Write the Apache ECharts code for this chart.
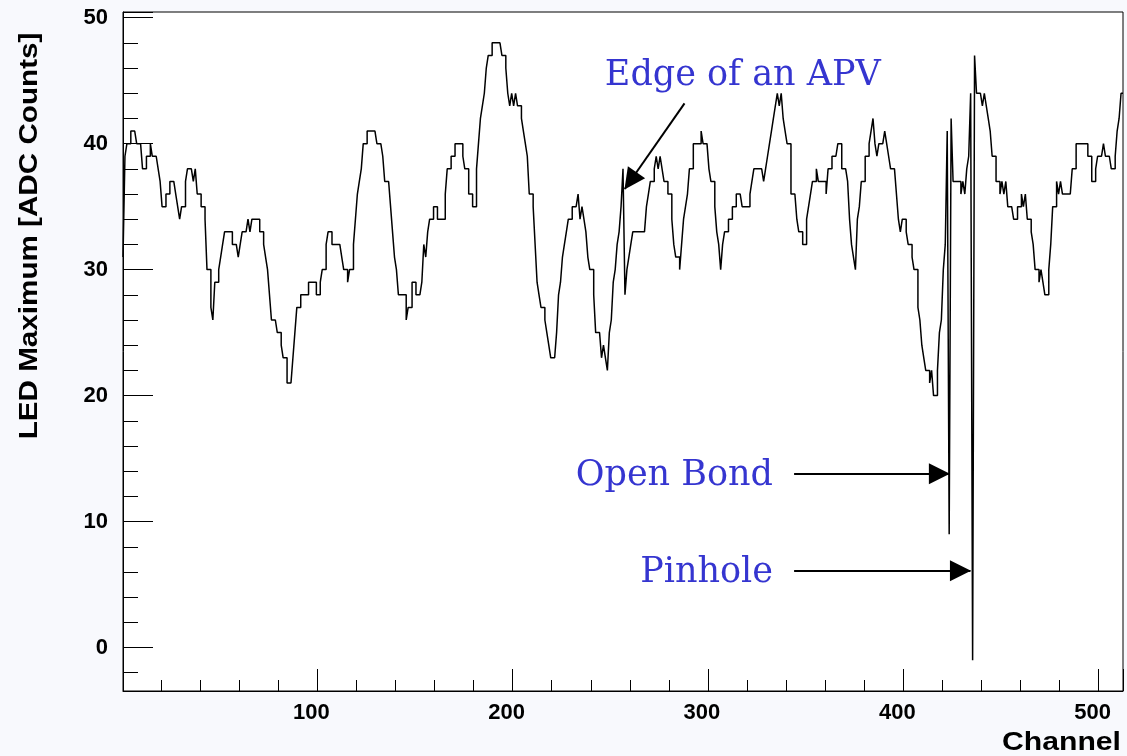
<!DOCTYPE html>
<html>
<head>
<meta charset="utf-8">
<script src="https://cdn.jsdelivr.net/npm/echarts@6/dist/echarts.min.js"></script>
<style>
  html, body { margin: 0; padding: 0; background: #ffffff; }
  #chart { width: 1127px; height: 756px; }
</style>
</head>
<body>
<div id="chart"></div>
<script>
// Histogram axes: 512 readout channels, LED pulse maximum in ADC counts
const channelRange = [0.5, 512.5];
const adcRange = [-3.45, 50.45];

// LED maximum per channel (channel 1 .. 512)
const ledMaximum = [
  31,39,40,40,41,41,41,40,40,40,
  38,38,39,39,40,39,39,39,38,37,
  35,35,36,36,37,37,37,36,35,34,
  35,35,37,38,38,38,37,38,36,36,
  35,35,34,30,30,27,26,29,29,30,
  31,32,33,33,33,33,32,32,32,31,
  32,33,33,33,34,33,34,34,34,34,
  33,33,32,31,30,28,26,26,26,25,
  25,24,23,23,21,21,21,23,25,27,
  27,28,28,28,28,29,29,29,29,28,
  28,29,30,30,32,33,33,32,32,32,
  32,32,31,30,30,29,30,30,32,34,
  36,37,38,40,40,41,41,41,41,41,
  40,40,40,39,37,37,37,35,33,31,
  30,28,28,28,28,26,27,27,29,29,
  28,28,28,29,32,31,33,34,34,35,
  35,34,34,34,34,36,38,38,39,39,
  40,40,40,40,39,38,38,36,36,35,
  35,38,40,42,43,44,46,47,47,48,
  48,48,48,48,47,47,46,44,43,44,
  43,44,43,43,42,41,40,39,36,36,
  35,32,29,28,27,27,26,25,24,23,
  23,23,25,28,29,31,32,33,34,34,
  35,35,35,36,34,35,34,33,31,30,
  30,28,25,25,25,23,24,23,22,25,
  26,29,30,32,33,35,38,28,30,31,
  32,33,33,33,33,33,33,33,35,36,
  37,37,38,39,38,39,38,37,37,36,
  36,34,32,31,31,30,32,34,35,36,
  38,38,40,40,40,40,41,40,40,40,
  38,37,37,35,33,32,30,32,33,33,
  34,34,35,35,36,36,36,35,35,35,
  35,36,37,38,38,38,38,38,37,38,
  39,40,41,42,43,44,43,44,42,41,
  40,40,36,36,36,34,33,33,32,32,
  34,35,36,37,37,38,37,37,37,37,
  36,38,38,39,39,39,40,40,38,38,
  38,37,34,32,31,30,34,35,37,37,
  39,39,40,41,42,40,39,40,40,40,
  41,40,39,38,38,38,36,34,33,34,
  34,33,32,32,31,30,30,27,26,24,
  23,22,22,21,22,20,20,22,25,26,
  30,32,41,9,42,37,37,37,37,36,
  37,36,38,39,44,-1,47,44,44,44,
  43,44,43,42,41,39,39,37,37,36,
  37,36,37,35,35,35,34,34,35,35,
  36,35,36,34,34,33,32,30,30,29,
  30,29,28,28,30,32,35,35,37,36,
  37,36,36,36,36,36,38,38,40,40,
  40,40,40,40,39,39,37,37,38,39,
  39,39,40,39,39,39,38,38,39,41,
  42,44
];

// Annotation texts and the arrows that point at the features they name
const noteTexts = ['Edge of an APV', 'Open Bond', 'Pinhole'];
const noteAnchors = [[247.2, 45.35], [333.3, 13.65], [333.3, 5.95]];
const noteAlign = ['left', 'right', 'right'];
const arrowFrom = [[288.0, 43.2], [344.1, 13.8], [344.1, 6.1]];
const arrowTo = [[257.4, 36.4], [423.6, 13.8], [434.4, 6.1]];

// Step outline: each bin starts at its lower edge, the last point closes the final bin
const stepPoints = ledMaximum.map((v, i) => [channelRange[0] + i, v]);
stepPoints.push([channelRange[0] + ledMaximum.length, ledMaximum[ledMaximum.length - 1]]);

const tickFont = { color: '#000', fontFamily: 'Liberation Sans, Arial, sans-serif', fontWeight: 'bold', fontSize: 22 };
const blue = '#3535d0';

const chart = echarts.init(document.getElementById('chart'), null, { renderer: 'canvas' });

const option = {
  animation: false,
  backgroundColor: '#f8f9fd',
  grid: {
    left: 123, top: 12, width: 1000, height: 679,
    show: true, borderColor: '#000', borderWidth: 1, backgroundColor: '#ffffff'
  },
  xAxis: {
    type: 'value',
    min: channelRange[0], max: channelRange[1],
    splitNumber: 5,
    axisLine: { show: true, onZero: false, lineStyle: { color: '#000', width: 1 } },
    axisTick: { show: true, inside: true, length: 22, lineStyle: { color: '#000', width: 1 } },
    minorTick: { show: true, splitNumber: 5, length: 11, lineStyle: { color: '#000', width: 1 } },
    splitLine: { show: false },
    axisLabel: Object.assign({ margin: 11, padding: [0, 12, 0, 0], showMinLabel: false, showMaxLabel: false }, tickFont)
  },
  yAxis: {
    type: 'value',
    min: adcRange[0], max: adcRange[1],
    splitNumber: 5,
    axisLine: { show: true, onZero: false, lineStyle: { color: '#000', width: 1 } },
    axisTick: { show: true, inside: true, length: 30, lineStyle: { color: '#000', width: 1 } },
    minorTick: { show: true, splitNumber: 5, length: 15, lineStyle: { color: '#000', width: 1 } },
    splitLine: { show: false },
    axisLabel: Object.assign({ margin: 15, showMinLabel: false, showMaxLabel: false }, tickFont)
  },
  series: [{
    type: 'line',
    name: 'LED Maximum',
    data: stepPoints,
    step: 'end',
    showSymbol: false,
    symbol: 'none',
    clip: true,
    lineStyle: { color: '#000', width: 1.5 },
    markLine: {
      silent: true,
      animation: false,
      symbol: ['none', 'triangle'],
      symbolSize: [21, 21],
      symbolOffset: [0, [0, 10]],
      lineStyle: { color: '#000', width: 2, type: 'solid' },
      itemStyle: { color: '#000' },
      label: { show: false },
      emphasis: { disabled: true },
      data: arrowFrom.map((p, i) => [{ coord: p }, { coord: arrowTo[i] }])
    }
  }]
};

chart.setOption(option);

// Texts placed from data coordinates once the grid is laid out
const toPx = p => chart.convertToPixel({ gridIndex: 0 }, p);
const graphics = noteTexts.map((t, i) => {
  const p = toPx(noteAnchors[i]);
  return {
    type: 'text', x: p[0], y: p[1], z: 100,
    style: {
      text: t, fill: blue, align: noteAlign[i], verticalAlign: 'middle',
      font: '35px "DejaVu Serif", serif'
    }
  };
});
// Axis titles in a slightly widened bold sans
graphics.push({
  type: 'text', x: 29.5, y: 236, rotation: Math.PI / 2, scaleX: 1.14, z: 100,
  style: {
    text: 'LED Maximum [ADC Counts]', fill: '#000', align: 'center', verticalAlign: 'middle',
    font: 'bold 26px "Liberation Sans", Arial, sans-serif'
  }
});
graphics.push({
  type: 'text', x: 1121, y: 742.7, scaleX: 1.16, z: 100,
  style: {
    text: 'Channel', fill: '#000', align: 'right', verticalAlign: 'middle',
    font: 'bold 26px "Liberation Sans", Arial, sans-serif'
  }
});
chart.setOption({ graphic: graphics });
</script>
</body>
</html>
